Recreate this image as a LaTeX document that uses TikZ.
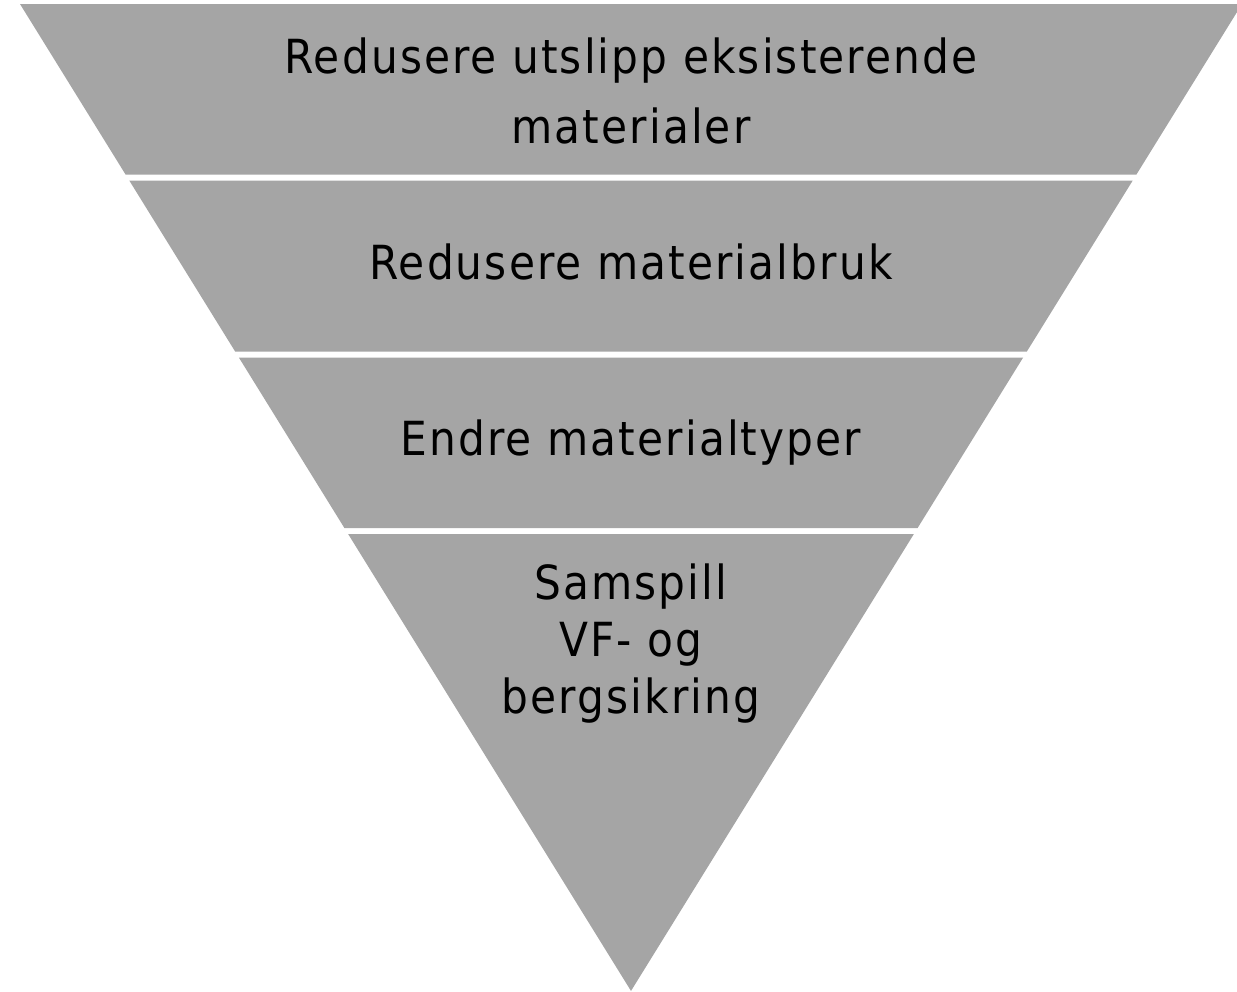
\documentclass[tikz,border=0pt]{standalone}
\usepackage{fontspec}
\setmainfont{DejaVu Sans Condensed}[LetterSpace=4.5]
\definecolor{bandgray}{RGB}{165,165,165}
\begin{document}
\begin{tikzpicture}[x=1pt,y=-1pt,
  bandtext/.style={font=\fontsize{47}{57}\selectfont, align=center, inner sep=0pt, anchor=base}]
\useasboundingbox (0,0) rectangle (1237,991);
%bands of the funnel
\foreach \top/\bot in {4/174.5, 180.5/351.5, 357.5/528, 534/991}{
    \fill[bandgray] ({20+0.6191*(\top-4)},\top) -- ({1242-0.6191*(\top-4)},\top)
        -- ({1242-0.6191*(\bot-4)},\bot) -- ({20+0.6191*(\bot-4)},\bot) -- cycle;
};
\node[bandtext] (utslipp) at (631,143) {Redusere utslipp eksisterende\\[13pt]materialer};
\node[bandtext] (bruk) at (631,279) {Redusere materialbruk};
\node[bandtext] (typer) at (631,455) {Endre materialtyper};
\node[bandtext] (samspill) at (631,713) {Samspill\\VF- og\\bergsikring};
\end{tikzpicture}
\end{document}
